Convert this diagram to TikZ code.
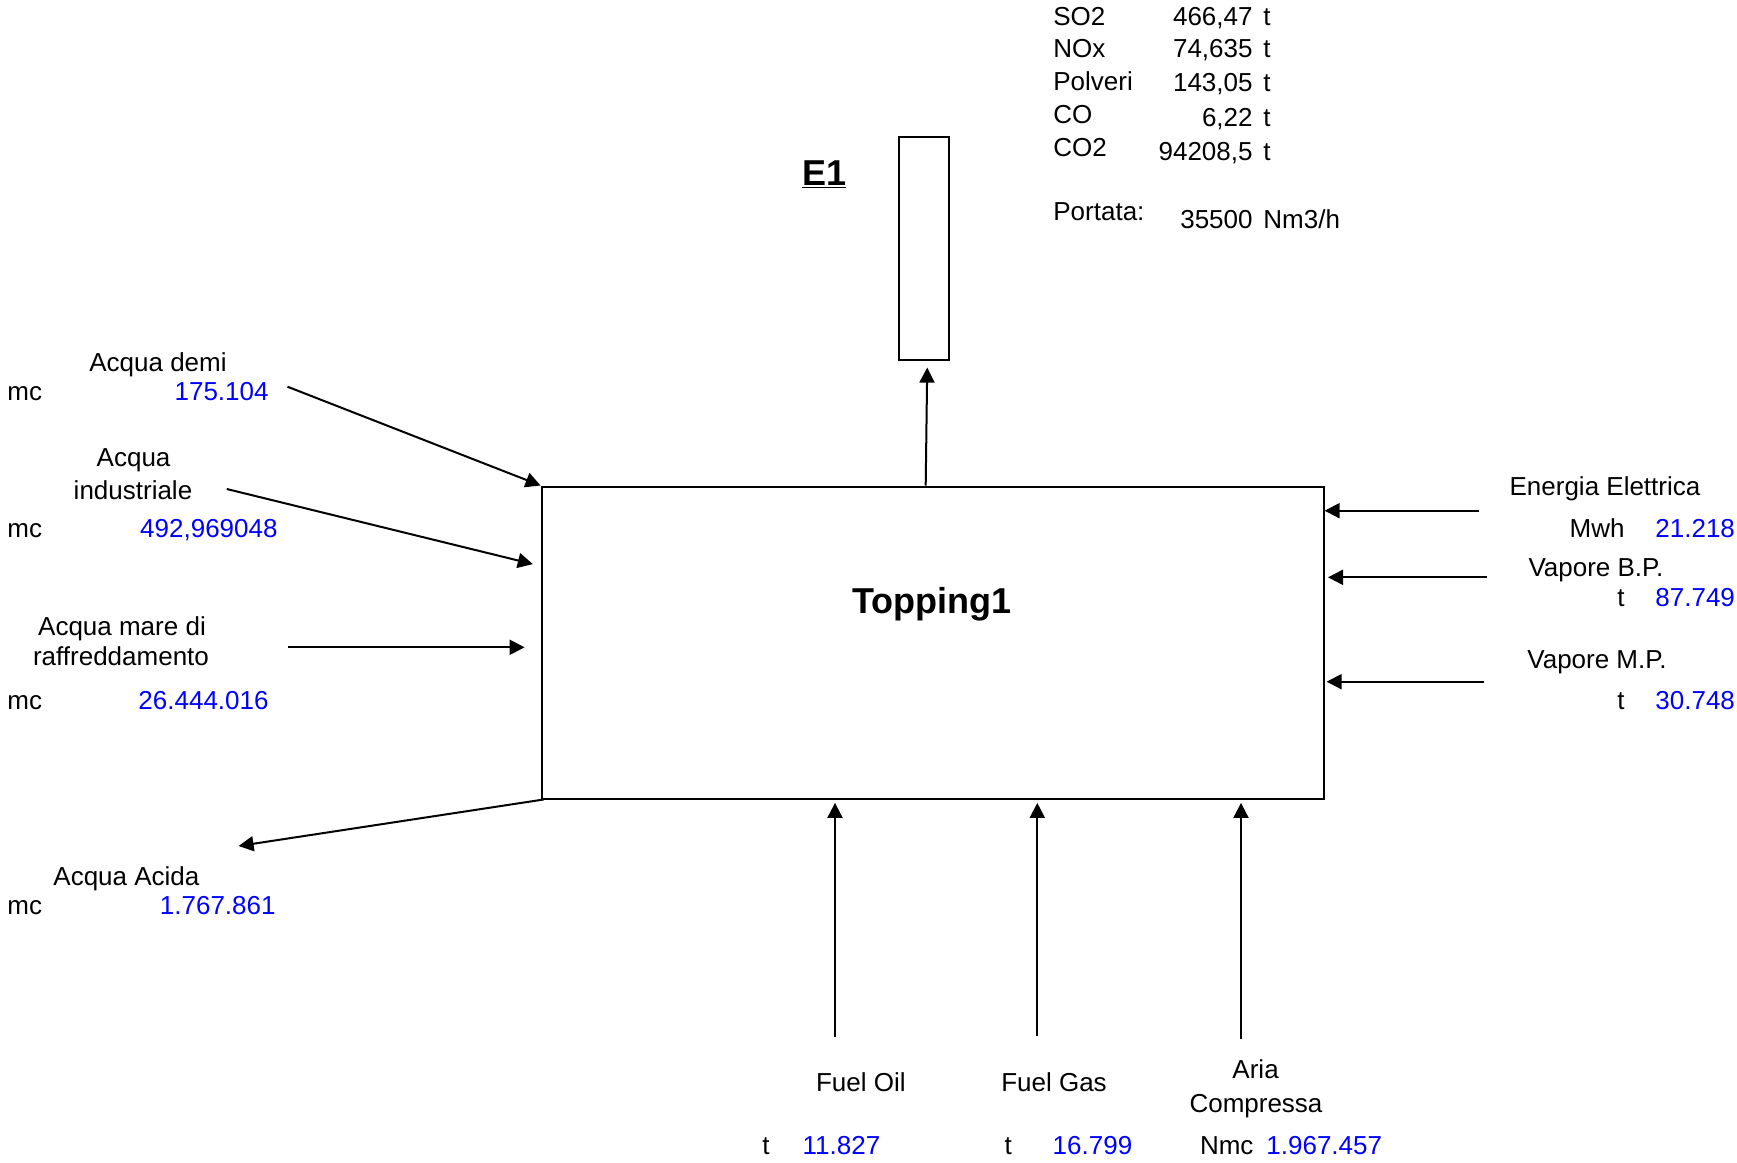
\documentclass[tikz,border=0pt]{standalone}
\usepackage{fontspec}
\setmainfont{Liberation Sans}
\usetikzlibrary{arrows.meta,calc}
\tikzset{
  txt/.style={inner sep=0pt, font=\fontsize{13}{15.6}\selectfont},
  val/.style={txt, text=blue},
  mainbox/.style={draw, line width=1pt, minimum width=391pt, minimum height=156pt, inner sep=0pt},
  stackbox/.style={draw, line width=1pt, minimum width=25pt, minimum height=111.5pt, inner sep=0pt},
  bigtxt/.style={inner sep=0pt, font=\fontsize{18}{21}\selectfont\bfseries},
  flow/.style={line width=1pt, -{Triangle[length=7.5pt,width=7.5pt]}}
}
\begin{document}
\begin{tikzpicture}[x=0.5pt, y=-0.5pt]
  \useasboundingbox (0,0) rectangle (1737,1163);

  \node[mainbox] (topping) at (932.6,642.5) {};
  \node[bigtxt, anchor=base west] (toptitle) at (851.7,613.3) {Topping1};
  \node[stackbox] (stack) at (924,248.5) {};
  \node[bigtxt, anchor=base west] (e1) at (801.7,185) {\underline{E1}};

  \node[txt, anchor=base west] (so2) at (1053,25) {SO2};
  \node[txt, anchor=base east] (so2v) at (1253,25) {466,47};
  \node[txt, anchor=base west] (so2u) at (1263,25) {t};
  \node[txt, anchor=base west] (nox) at (1053,57.3) {NOx};
  \node[txt, anchor=base east] (noxv) at (1253,57.3) {74,635};
  \node[txt, anchor=base west] (noxu) at (1263,57.3) {t};
  \node[txt, anchor=base west] (polv) at (1053,90) {Polveri};
  \node[txt, anchor=base east] (polvv) at (1253,91.7) {143,05};
  \node[txt, anchor=base west] (polvu) at (1263,91.7) {t};
  \node[txt, anchor=base west] (co) at (1053,123.3) {CO};
  \node[txt, anchor=base east] (cov) at (1253,126) {6,22};
  \node[txt, anchor=base west] (cou) at (1263,126) {t};
  \node[txt, anchor=base west] (co2) at (1053,156) {CO2};
  \node[txt, anchor=base east] (co2v) at (1253,160) {94208,5};
  \node[txt, anchor=base west] (co2u) at (1263,160) {t};
  \node[txt, anchor=base west] (port) at (1053,220) {Portata:};
  \node[txt, anchor=base east] (portv) at (1253,228) {35500};
  \node[txt, anchor=base west] (portu) at (1263,228) {Nm3/h};

  \node[txt, anchor=base] (demi) at (158,371.7) {Acqua demi};
  \node[txt, anchor=base west] (demiu) at (7,400.7) {mc};
  \node[val, anchor=base east] (demiv) at (269,400.7) {175.104};
  \node[txt, anchor=base] (ind1) at (133.6,466.7) {Acqua};
  \node[txt, anchor=base] (ind2) at (133,499.3) {industriale};
  \node[txt, anchor=base west] (indu) at (7,537.3) {mc};
  \node[val, anchor=base east] (indv) at (278,537.3) {492,969048};
  \node[txt, anchor=base] (mare1) at (122,635) {Acqua mare di};
  \node[txt, anchor=base] (mare2) at (121,665) {raffreddamento};
  \node[txt, anchor=base west] (mareu) at (7,709.3) {mc};
  \node[val, anchor=base east] (marev) at (269,709.3) {26.444.016};
  \node[txt, anchor=base] (acida) at (126.4,885) {Acqua Acida};
  \node[txt, anchor=base west] (acidau) at (7,914) {mc};
  \node[val, anchor=base east] (acidav) at (276,914) {1.767.861};

  \node[txt, anchor=base] (ener) at (1605,495) {Energia Elettrica};
  \node[txt, anchor=base east] (eneru) at (1625,537.3) {Mwh};
  \node[val, anchor=base west] (enerv) at (1655,537.3) {21.218};
  \node[txt, anchor=base] (vbp) at (1596,576.7) {Vapore B.P.};
  \node[txt, anchor=base east] (vbpu) at (1625,606.7) {t};
  \node[val, anchor=base west] (vbpv) at (1655,606.7) {87.749};
  \node[txt, anchor=base] (vmp) at (1597,668.3) {Vapore M.P.};
  \node[txt, anchor=base east] (vmpu) at (1625,709.3) {t};
  \node[val, anchor=base west] (vmpv) at (1655,709.3) {30.748};

  \node[txt, anchor=base] (foil) at (860.8,1091.7) {Fuel Oil};
  \node[txt, anchor=base west] (foilu) at (762,1154) {t};
  \node[val, anchor=base west] (foilv) at (802.3,1154) {11.827};
  \node[txt, anchor=base] (fgas) at (1054,1091.7) {Fuel Gas};
  \node[txt, anchor=base west] (fgasu) at (1004.3,1154) {t};
  \node[val, anchor=base west] (fgasv) at (1052.3,1154) {16.799};
  \node[txt, anchor=base] (aria1) at (1255.6,1078.3) {Aria};
  \node[txt, anchor=base] (aria2) at (1256,1112.7) {Compressa};
  \node[txt, anchor=base west] (ariau) at (1199.6,1154) {Nmc};
  \node[val, anchor=base west] (ariav) at (1266,1154) {1.967.457};

  \coordinate (indemi) at (287.5,386.7);
  \coordinate (inind) at (226.8,489);
  \coordinate (inmare) at (287.5,647.3);
  \coordinate (outacida) at (238.6,846);
  \coordinate (inener) at (1479.3,510.7);
  \coordinate (invbp) at (1486.7,577.3);
  \coordinate (invmp) at (1484.3,681.7);
  \coordinate (infoil) at (835,1037.3);
  \coordinate (infgas) at (1037.3,1036);
  \coordinate (inaria) at (1241,1039.3);

  \draw[flow] (indemi) -- (topping.north west);
  \draw[flow, shorten >=4pt] (inind) -- ($(topping.north west)+(0,80.5)$);
  \draw[flow, shorten >=8pt] (inmare) -- (inmare -| topping.west);
  \draw[flow] ($(topping.south west)+(3,0)$) -- (outacida);
  \draw[flow] (inener) -- (inener -| topping.east);
  \draw[flow, shorten >=1.7pt] (invbp) -- (invbp -| topping.east);
  \draw[flow, shorten >=1pt] (invmp) -- (invmp -| topping.east);
  \draw[flow, shorten >=1.7pt] (infoil) -- (infoil |- topping.south);
  \draw[flow, shorten >=1.7pt] (infgas) -- (infgas |- topping.south);
  \draw[flow, shorten >=1.7pt] (inaria) -- (inaria |- topping.south);
  \draw[flow, shorten >=3.3pt] ($(stack.south |- topping.north)+(1.7,0)$) -- ($(stack.south)+(3.3,0)$);
\end{tikzpicture}
\end{document}
